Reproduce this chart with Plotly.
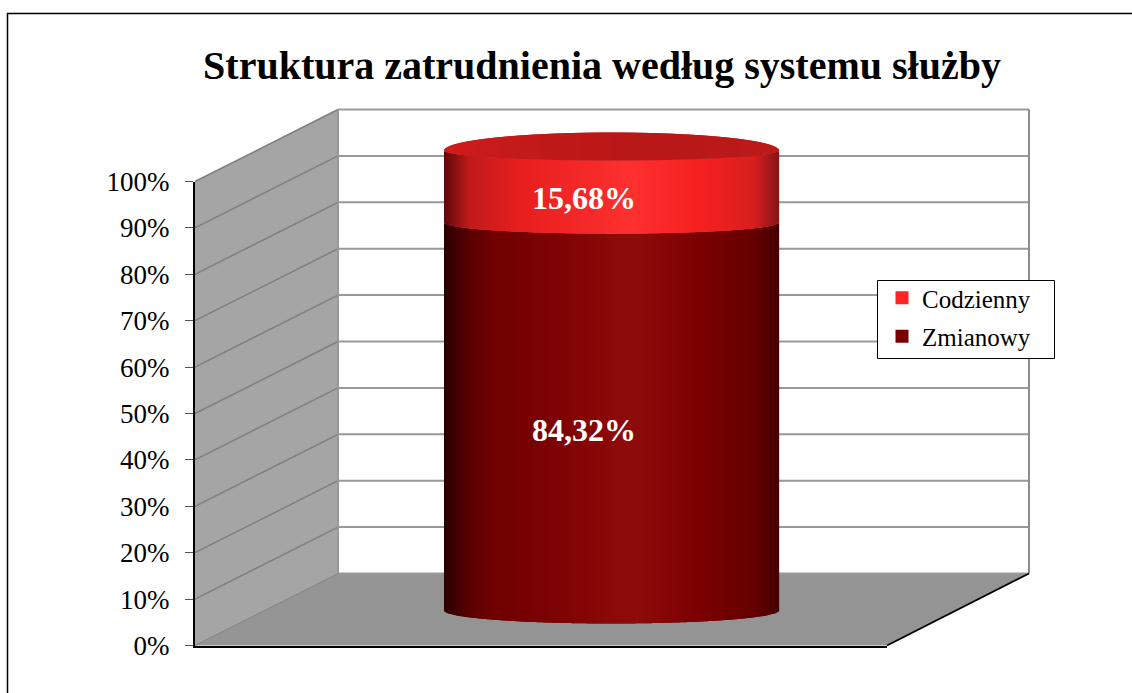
import numpy as np
import plotly.graph_objects as go

# ---- data ----
SERIES = ["Zmianowy", "Codzienny"]
VALUES = [84.32, 15.68]
LEGEND_COLORS = ["#7a0000", "#ff2525"]
TICKS = [0, 10, 20, 30, 40, 50, 60, 70, 80, 90, 100]
TICK_LABELS = ["0%", "10%", "20%", "30%", "40%", "50%", "60%", "70%", "80%", "90%", "100%"]

# ---- page geometry (the page subplot uses px in x and percent in y) ----
W, H = 1132, 693
Y0_PX, Y100_PX = 645.5, 181.5
PX_PER_PCT = (Y0_PX - Y100_PX) / 100
FRONT_L, FRONT_R, BACK_L, BACK_R = 195, 887, 338, 1029
DEPTH = (Y0_PX - 573.5) / PX_PER_PCT
FONT = "Liberation Serif"

# cylinder look
CYL_L, CYL_R = 445, 779
CYL_SHIFT, CYL_SCALE = 7.54, 0.9914
SAGS = [2.8, 2.37, 2.15]
BACK_SAG = 3.88
xs = np.arange(CYL_L, CYL_R + 1) + 0.5
xs = xs[xs < CYL_R]
cx, r = (CYL_L + CYL_R) / 2, (CYL_R - CYL_L) / 2
ell = np.sqrt(np.clip(1 - ((xs - cx) / r) ** 2, 0, 1))


def ramp(stops):
    px = [s[0] for s in stops]
    rgb = [[int(s[1][i:i + 2], 16) for s in stops] for i in (1, 3, 5)]
    ch = [np.interp(xs, px, c) for c in rgb]
    return [f"rgb({int(a)},{int(b)},{int(c)})" for a, b, c in zip(*ch)]


GRAD_DARK = ramp([(445, "#2a0000"), (470, "#5a0000"), (495, "#700000"), (585, "#850505"),
                  (633, "#900c0c"), (705, "#7a0000"), (755, "#650000"), (779, "#450000")])
GRAD_BRIGHT = ramp([(445, "#600808"), (470, "#c01a1a"), (520, "#e81f1f"), (633, "#ff3030"),
                    (705, "#f52020"), (755, "#d81f1f"), (779, "#8a1515")])
GRAD_CAP = ramp([(445, "#d01c1c"), (520, "#c41a1a"), (633, "#b91818"), (779, "#bd1a1a")])

fig = go.Figure()

# cylinder segments
cum = np.cumsum([0] + VALUES)
edge = [CYL_SHIFT + CYL_SCALE * c for c in cum]
for i, (name, grad) in enumerate(zip(SERIES, [GRAD_DARK, GRAD_BRIGHT])):
    low = edge[i] - SAGS[i] * ell
    high = edge[i + 1] - SAGS[i + 1] * ell
    fig.add_trace(go.Bar(x=xs, y=high - low, base=low, width=1.3, marker=dict(color=grad, line=dict(width=0)),
                         xaxis="x", yaxis="y", showlegend=False, name=name, hoverinfo="skip"))
low = edge[2] - SAGS[2] * ell
high = edge[2] + BACK_SAG * ell
fig.add_trace(go.Bar(x=xs, y=high - low, base=low, width=1.3, marker=dict(color=GRAD_CAP, line=dict(width=0)),
                     xaxis="x", yaxis="y", showlegend=False, hoverinfo="skip"))

# real value axis subplot and legend entries
for name, col in zip(SERIES[::-1], LEGEND_COLORS[::-1]):
    fig.add_trace(go.Scatter(x=[None], y=[None], mode="markers", name=name, legendgroup=name,
                             marker=dict(symbol="square", size=13, color=col),
                             xaxis="x2", yaxis="y2"))

# walls, floor, gridlines
shapes = []
def poly(pts, fill, line=None, w=0):
    d = "M" + " L".join(f"{a},{b}" for a, b in pts) + " Z"
    shapes.append(dict(type="path", path=d, xref="x", yref="y", fillcolor=fill, layer="below",
                       line=dict(color=line or fill, width=w)))
def seg(a, b, col, w):
    shapes.append(dict(type="line", xref="x", yref="y", x0=a[0], y0=a[1], x1=b[0], y1=b[1],
                       layer="below", line=dict(color=col, width=w)))

poly([(BACK_L, DEPTH), (BACK_R, DEPTH), (BACK_R, 100 + DEPTH), (BACK_L, 100 + DEPTH)], "#ffffff")
poly([(FRONT_L, 0), (BACK_L, DEPTH), (BACK_L, 100 + DEPTH), (FRONT_L, 100)], "#a5a5a5")
poly([(FRONT_L, 0), (FRONT_R, 0), (BACK_R, DEPTH), (BACK_L, DEPTH)], "#949494")
for t in TICKS:
    if t > 0:
        seg((FRONT_L, t), (BACK_L, t + DEPTH), "#7f7f7f", 1.5)
    seg((BACK_L, t + DEPTH), (BACK_R, t + DEPTH), "#999999", 2)
seg((BACK_L, DEPTH), (BACK_L, 100 + DEPTH), "#999999", 2)
seg((BACK_R, DEPTH), (BACK_R, 100 + DEPTH), "#8c8c8c", 2)
seg((FRONT_L, 0), (BACK_L, DEPTH), "#808080", 1)
seg((FRONT_R, 0), (BACK_R, DEPTH), "#000000", 1.8)
# outer frame
shapes.append(dict(type="path", path=f"M{7.5/W},0 L{7.5/W},{1-13.5/H} L1,{1-13.5/H}",
                   xref="paper", yref="paper", line=dict(color="#000000", width=1.5)))
# legend box
shapes.append(dict(type="rect", xref="paper", yref="paper", x0=877.5 / W, x1=1054.5 / W,
                   y0=1 - 358.5 / H, y1=1 - 280.5 / H, layer="above", fillcolor="#ffffff",
                   line=dict(color="#000000", width=1)))

labels = []
for i, v in enumerate(VALUES):
    labels.append(dict(x=583.5, y=(edge[i] + edge[i + 1]) / 2 - SAGS[i] - 0.2,
                       xref="x", yref="y", showarrow=False, xanchor="center", yanchor="middle",
                       text=f"{v:.2f}%".replace(".", ","),
                       font=dict(family=FONT, size=32, color="#ffffff", weight="bold")))

fig.update_layout(
    width=W, height=H, margin=dict(l=0, r=0, t=0, b=0, autoexpand=False),
    paper_bgcolor="#ffffff", plot_bgcolor="rgba(0,0,0,0)",
    barmode="overlay", shapes=shapes, annotations=labels,
    title=dict(text="<b>Struktura zatrudnienia według systemu służby</b>", x=602 / W, y=1 - 64.5 / H,
               xanchor="center", yanchor="middle", font=dict(family=FONT, size=40, color="#000000")),
    xaxis=dict(domain=[0, 1], range=[0, W], visible=False, fixedrange=True),
    yaxis=dict(domain=[0, 1], range=[-(H - Y0_PX) / PX_PER_PCT, Y0_PX / PX_PER_PCT], visible=False, fixedrange=True),
    xaxis2=dict(domain=[FRONT_L / W, FRONT_R / W], range=[0, 1], anchor="y2", showline=True, linecolor="#000000",
                linewidth=2, showgrid=False, zeroline=False, ticks="", showticklabels=False, fixedrange=True),
    yaxis2=dict(domain=[1 - Y0_PX / H, 1 - Y100_PX / H], range=[0, 100], anchor="x2", tickmode="array",
                tickvals=TICKS, ticktext=TICK_LABELS, showline=True, linecolor="#000000", linewidth=2,
                showgrid=False, zeroline=False, ticks="outside", ticklen=8, tickcolor="#555555", tickwidth=1,
                ticklabelstandoff=10, tickfont=dict(family=FONT, size=27, color="#000000"), fixedrange=True),
    legend=dict(x=882 / W, y=1 - 275 / H, xanchor="left", yanchor="top", bgcolor="rgba(0,0,0,0)",
                borderwidth=0, font=dict(family=FONT, size=25, color="#000000"), traceorder="grouped",
                tracegroupgap=3, itemwidth=30),
    showlegend=True,
)

fig.write_html("out.html", config={"displayModeBar": False},
               post_script="document.body.style.margin='0';document.body.style.overflow='hidden';")
